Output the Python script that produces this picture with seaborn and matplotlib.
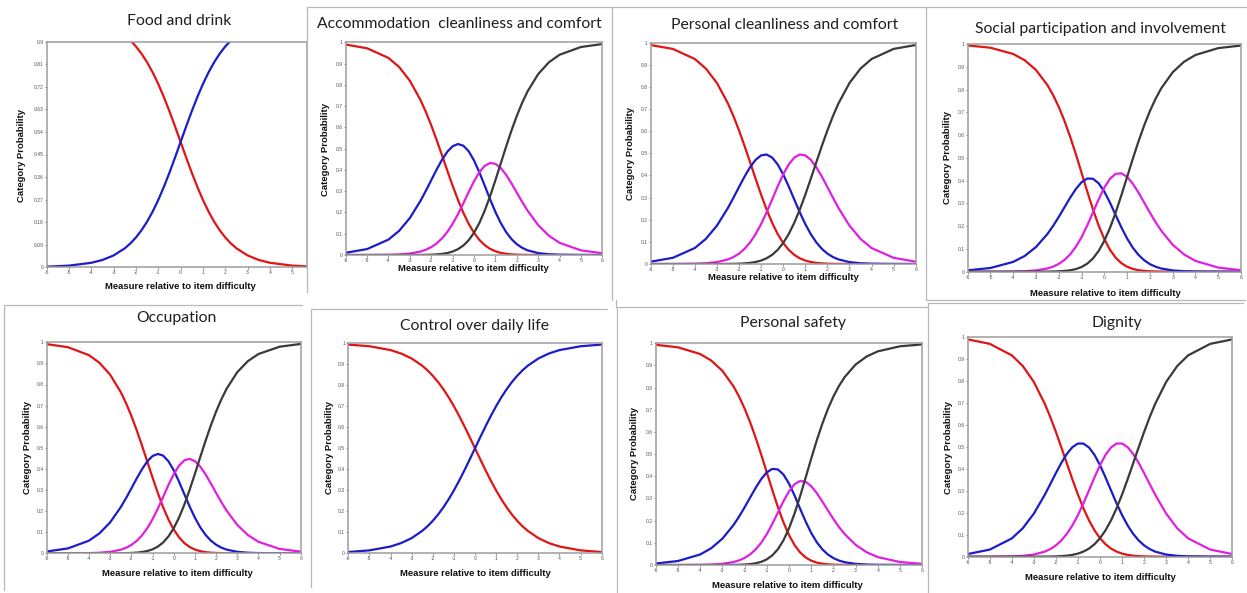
import matplotlib
matplotlib.use("Agg")
import matplotlib.pyplot as plt
import seaborn as sns
from matplotlib.lines import Line2D

sns.set_theme(style="white")
plt.rcParams['font.family'] = ['Liberation Sans', 'DejaVu Sans']

# ---------------- data ----------------
X = [-6, -5, -4, -3.5, -3, -2.5, -2.25, -2, -1.75, -1.5, -1.25, -1, -0.75, -0.5, -0.25, 0,
     0.25, 0.5, 0.75, 1, 1.25, 1.5, 1.75, 2, 2.25, 2.5, 3, 3.5, 4, 5, 6]
X_TICKS = [-6, -5, -4, -3, -2, -1, 0, 1, 2, 3, 4, 5, 6]
X_TICKS_FOOD = [-6, -5, -4, -3, -2, -1, 0, 1, 2, 3, 4, 5]
Y_TICKS = [0, 0.1, 0.2, 0.3, 0.4, 0.5, 0.6, 0.7, 0.8, 0.9, 1]
Y_LABELS = ["0", "0.1", "0.2", "0.3", "0.4", "0.5", "0.6", "0.7", "0.8", "0.9", "1"]
Y_TICKS_FOOD = [0, 0.09, 0.18, 0.27, 0.36, 0.45, 0.54, 0.63, 0.72, 0.81, 0.9]
Y_LABELS_FOOD = ["0", "0.09", "0.18", "0.27", "0.36", "0.45", "0.54", "0.63", "0.72", "0.81", "0.9"]

titles = ["Food and drink", "Accommodation  cleanliness and comfort",
          "Personal cleanliness and comfort", "Social participation and involvement",
          "Occupation", "Control over daily life", "Personal safety", "Dignity"]

food_red = [0.9975, 0.9933, 0.9820, 0.9707, 0.9526, 0.9241, 0.9047, 0.8808, 0.8520, 0.8176, 0.7773,
            0.7311, 0.6792, 0.6225, 0.5622, 0.5, 0.4378, 0.3775, 0.3208, 0.2689, 0.2227, 0.1824,
            0.1480, 0.1192, 0.0953, 0.0759, 0.0474, 0.0293, 0.0180, 0.0067, 0.0025]
food_blue = [0.0025, 0.0067, 0.0180, 0.0293, 0.0474, 0.0759, 0.0953, 0.1192, 0.1480, 0.1824, 0.2227,
             0.2689, 0.3208, 0.3775, 0.4378, 0.5, 0.5622, 0.6225, 0.6792, 0.7311, 0.7773, 0.8176,
             0.8520, 0.8808, 0.9047, 0.9241, 0.9526, 0.9707, 0.9820, 0.9933, 0.9975]

accom_red = [0.9895, 0.9719, 0.9266, 0.8836, 0.8193, 0.7284, 0.6723, 0.6097, 0.5416, 0.4700, 0.3972,
             0.3260, 0.2591, 0.1988, 0.1469, 0.1043, 0.0711, 0.0464, 0.0291, 0.0175, 0.0101, 0.0057,
             0.0031, 0.0016, 0.0008, 0.0004, 0.0001, 0.0, 0.0, 0.0, 0.0]
accom_blue = [0.0105, 0.0279, 0.0724, 0.1137, 0.1739, 0.2549, 0.3021, 0.3517, 0.4012, 0.4471, 0.4852,
              0.5113, 0.5217, 0.5140, 0.4878, 0.4449, 0.3892, 0.3264, 0.2624, 0.2026, 0.1505, 0.1081,
              0.0752, 0.0510, 0.0339, 0.0221, 0.0090, 0.0035, 0.0013, 0.0002, 0.0]
accom_mag = [0.0, 0.0002, 0.0010, 0.0027, 0.0067, 0.0163, 0.0248, 0.0371, 0.0543, 0.0777, 0.1082,
             0.1465, 0.1919, 0.2428, 0.2959, 0.3465, 0.3892, 0.4191, 0.4326, 0.4288, 0.4092, 0.3772,
             0.3372, 0.2937, 0.2502, 0.2094, 0.1406, 0.0908, 0.0572, 0.0219, 0.0082]
accom_black = [0.0, 0.0, 0.0, 0.0, 0.0001, 0.0004, 0.0008, 0.0015, 0.0028, 0.0052, 0.0093,
               0.0162, 0.0273, 0.0444, 0.0694, 0.1043, 0.1505, 0.2081, 0.2759, 0.3511, 0.4302, 0.5091,
               0.5845, 0.6536, 0.7151, 0.7682, 0.8504, 0.9057, 0.9414, 0.9779, 0.9918]

pers_red = [0.9895, 0.9719, 0.9263, 0.8829, 0.8177, 0.7251, 0.6676, 0.6033, 0.5334, 0.4599, 0.3854,
            0.3130, 0.2457, 0.1860, 0.1355, 0.0950, 0.0640, 0.0415, 0.0259, 0.0156, 0.0091, 0.0051,
            0.0028, 0.0015, 0.0008, 0.0004, 0.0001, 0.0, 0.0, 0.0, 0.0]
pers_blue = [0.0105, 0.0279, 0.0723, 0.1136, 0.1735, 0.2537, 0.3000, 0.3481, 0.3951, 0.4374, 0.4707,
             0.4909, 0.4947, 0.4809, 0.4500, 0.4050, 0.3505, 0.2917, 0.2337, 0.1806, 0.1348, 0.0976,
             0.0686, 0.0471, 0.0316, 0.0208, 0.0086, 0.0034, 0.0013, 0.0002, 0.0]
pers_mag = [0.0, 0.0002, 0.0013, 0.0034, 0.0086, 0.0208, 0.0316, 0.0471, 0.0686, 0.0976, 0.1348,
            0.1806, 0.2337, 0.2917, 0.3505, 0.4050, 0.4500, 0.4809, 0.4947, 0.4909, 0.4707, 0.4374,
            0.3951, 0.3481, 0.3000, 0.2537, 0.1735, 0.1136, 0.0723, 0.0279, 0.0105]
pers_black = [0.0, 0.0, 0.0, 0.0, 0.0001, 0.0004, 0.0008, 0.0015, 0.0028, 0.0051, 0.0091,
              0.0156, 0.0259, 0.0415, 0.0640, 0.0950, 0.1355, 0.1860, 0.2457, 0.3130, 0.3854, 0.4599,
              0.5334, 0.6033, 0.6676, 0.7251, 0.8177, 0.8829, 0.9263, 0.9719, 0.9895]

social_red = [0.9939, 0.9836, 0.9561, 0.9288, 0.8857, 0.8198, 0.7758, 0.7233, 0.6620, 0.5924, 0.5157,
              0.4344, 0.3522, 0.2736, 0.2027, 0.1429, 0.0958, 0.0612, 0.0373, 0.0218, 0.0123, 0.0067,
              0.0035, 0.0018, 0.0009, 0.0005, 0.0001, 0.0, 0.0, 0.0, 0.0]
social_blue = [0.0061, 0.0163, 0.0431, 0.0690, 0.1085, 0.1655, 0.2011, 0.2408, 0.2830, 0.3251, 0.3634,
               0.3930, 0.4092, 0.4081, 0.3883, 0.3515, 0.3027, 0.2481, 0.1941, 0.1457, 0.1053, 0.0737,
               0.0502, 0.0334, 0.0218, 0.0140, 0.0056, 0.0022, 0.0008, 0.0001, 0.0]
social_mag = [0.0, 0.0001, 0.0008, 0.0022, 0.0057, 0.0143, 0.0223, 0.0343, 0.0517, 0.0762, 0.1094,
              0.1520, 0.2032, 0.2602, 0.3179, 0.3696, 0.4085, 0.4300, 0.4321, 0.4163, 0.3863, 0.3472,
              0.3036, 0.2595, 0.2176, 0.1798, 0.1185, 0.0757, 0.0474, 0.0180, 0.0067]
social_black = [0.0, 0.0, 0.0, 0.0, 0.0001, 0.0004, 0.0009, 0.0017, 0.0033, 0.0063, 0.0115,
                0.0206, 0.0353, 0.0581, 0.0911, 0.1360, 0.1930, 0.2608, 0.3365, 0.4163, 0.4961, 0.5724,
                0.6427, 0.7053, 0.7596, 0.8057, 0.8758, 0.9221, 0.9518, 0.9819, 0.9933]

occ_red = [0.9914, 0.9769, 0.9389, 0.9022, 0.8459, 0.7637, 0.7112, 0.6511, 0.5840, 0.5113, 0.4353,
           0.3590, 0.2857, 0.2187, 0.1605, 0.1128, 0.0759, 0.0488, 0.0301, 0.0178, 0.0102, 0.0056,
           0.0030, 0.0016, 0.0008, 0.0004, 0.0001, 0.0, 0.0, 0.0, 0.0]
occ_blue = [0.0086, 0.0230, 0.0600, 0.0951, 0.1470, 0.2188, 0.2617, 0.3076, 0.3542, 0.3982, 0.4353,
            0.4609, 0.4710, 0.4629, 0.4364, 0.3939, 0.3400, 0.2808, 0.2223, 0.1690, 0.1239, 0.0879,
            0.0606, 0.0408, 0.0269, 0.0174, 0.0071, 0.0028, 0.0011, 0.0002, 0.0]
occ_mag = [0.0, 0.0002, 0.0010, 0.0027, 0.0070, 0.0171, 0.0262, 0.0396, 0.0586, 0.0845, 0.1186,
           0.1613, 0.2116, 0.2671, 0.3233, 0.3747, 0.4153, 0.4404, 0.4476, 0.4370, 0.4113, 0.3747,
           0.3318, 0.2867, 0.2428, 0.2022, 0.1349, 0.0868, 0.0546, 0.0208, 0.0078]
occ_black = [0.0, 0.0, 0.0, 0.0, 0.0001, 0.0004, 0.0009, 0.0017, 0.0032, 0.0060, 0.0108,
             0.0188, 0.0317, 0.0513, 0.0797, 0.1186, 0.1688, 0.2299, 0.3000, 0.3761, 0.4546, 0.5318,
             0.6046, 0.6709, 0.7295, 0.7800, 0.8580, 0.9104, 0.9443, 0.9790, 0.9922]

ctrl_red = [0.9939, 0.9860, 0.9677, 0.9514, 0.9276, 0.8933, 0.8713, 0.8455, 0.8157, 0.7816, 0.7432,
            0.7006, 0.6542, 0.6047, 0.5529, 0.5, 0.4471, 0.3953, 0.3458, 0.2994, 0.2568, 0.2184,
            0.1843, 0.1545, 0.1287, 0.1067, 0.0724, 0.0486, 0.0323, 0.0140, 0.0061]
ctrl_blue = [0.0061, 0.0140, 0.0323, 0.0486, 0.0724, 0.1067, 0.1287, 0.1545, 0.1843, 0.2184, 0.2568,
             0.2994, 0.3458, 0.3953, 0.4471, 0.5, 0.5529, 0.6047, 0.6542, 0.7006, 0.7432, 0.7816,
             0.8157, 0.8455, 0.8713, 0.8933, 0.9276, 0.9514, 0.9677, 0.9860, 0.9939]

safe_red = [0.9933, 0.9819, 0.9518, 0.9222, 0.8760, 0.8062, 0.7603, 0.7062, 0.6439, 0.5739, 0.4977,
            0.4178, 0.3377, 0.2614, 0.1928, 0.1351, 0.0898, 0.0567, 0.0341, 0.0196, 0.0108, 0.0058,
            0.0030, 0.0015, 0.0008, 0.0004, 0.0001, 0.0, 0.0, 0.0, 0.0]
safe_blue = [0.0067, 0.0180, 0.0474, 0.0757, 0.1186, 0.1799, 0.2178, 0.2598, 0.3042, 0.3481, 0.3876,
             0.4178, 0.4336, 0.4309, 0.4082, 0.3674, 0.3136, 0.2540, 0.1960, 0.1446, 0.1027, 0.0706,
             0.0473, 0.0310, 0.0200, 0.0127, 0.0050, 0.0019, 0.0007, 0.0001, 0.0]
safe_mag = [0.0, 0.0001, 0.0008, 0.0021, 0.0053, 0.0134, 0.0208, 0.0318, 0.0478, 0.0703, 0.1005,
            0.1391, 0.1853, 0.2365, 0.2877, 0.3324, 0.3643, 0.3790, 0.3754, 0.3557, 0.3243, 0.2863,
            0.2462, 0.2072, 0.1715, 0.1400, 0.0907, 0.0572, 0.0355, 0.0134, 0.0050]
safe_black = [0.0, 0.0, 0.0, 0.0, 0.0001, 0.0005, 0.0011, 0.0021, 0.0041, 0.0078, 0.0143,
              0.0254, 0.0435, 0.0712, 0.1112, 0.1651, 0.2323, 0.3103, 0.3946, 0.4801, 0.5621, 0.6373,
              0.7035, 0.7603, 0.8078, 0.8469, 0.9043, 0.9409, 0.9637, 0.9866, 0.9950]

dig_red = [0.9878, 0.9675, 0.9154, 0.8664, 0.7943, 0.6942, 0.6336, 0.5671, 0.4961, 0.4232, 0.3510,
           0.2823, 0.2198, 0.1653, 0.1200, 0.0840, 0.0567, 0.0369, 0.0232, 0.0141, 0.0083, 0.0047,
           0.0026, 0.0014, 0.0007, 0.0004, 0.0001, 0.0, 0.0, 0.0, 0.0]
dig_blue = [0.0121, 0.0323, 0.0830, 0.1296, 0.1959, 0.2823, 0.3308, 0.3801, 0.4270, 0.4677, 0.4981,
            0.5144, 0.5142, 0.4966, 0.4629, 0.4160, 0.3605, 0.3012, 0.2429, 0.1892, 0.1427, 0.1044,
            0.0742, 0.0514, 0.0349, 0.0232, 0.0098, 0.0039, 0.0015, 0.0002, 0.0]
dig_mag = [0.0, 0.0002, 0.0015, 0.0039, 0.0098, 0.0232, 0.0349, 0.0514, 0.0742, 0.1044, 0.1427,
           0.1892, 0.2429, 0.3012, 0.3605, 0.4160, 0.4629, 0.4966, 0.5142, 0.5144, 0.4981, 0.4677,
           0.4270, 0.3801, 0.3308, 0.2823, 0.1959, 0.1296, 0.0830, 0.0323, 0.0121]
dig_black = [0.0, 0.0, 0.0, 0.0, 0.0001, 0.0004, 0.0007, 0.0014, 0.0026, 0.0047, 0.0083,
             0.0141, 0.0232, 0.0369, 0.0567, 0.0840, 0.1200, 0.1653, 0.2198, 0.2823, 0.3510, 0.4232,
             0.4961, 0.5671, 0.6336, 0.6942, 0.7943, 0.8664, 0.9154, 0.9675, 0.9878]

# ---------------- styling / layout ----------------
RED, BLUE, MAG, BLACK = "#e01515", "#1c1cc8", "#e020e0", "#3a3a3a"
W, H = 1247, 593

fig = plt.figure(figsize=(W / 100, H / 100), dpi=100)
fig.patch.set_facecolor("white")


def fx(px):
    return px / W


def fy(py):
    return 1 - py / H


panels = [
    dict(title=titles[0], box=(46.7, 41.7, 306.7, 267.3), curves=[(food_red, RED), (food_blue, BLUE)],
         xlim=(-6, 5.65), xticks=X_TICKS_FOOD, ylim=(0, 0.9), yticks=Y_TICKS_FOOD, ylabels=Y_LABELS_FOOD,
         tpos=(179, 21), xl=(180, 287), yl=(21.7, 155)),
    dict(title=titles[1], box=(345.7, 42.3, 602.3, 255), curves=[(accom_red, RED), (accom_blue, BLUE), (accom_mag, MAG), (accom_black, BLACK)],
         xlim=(-6, 6), xticks=X_TICKS, ylim=(0, 1), yticks=Y_TICKS, ylabels=Y_LABELS,
         tpos=(459, 24), xl=(473, 268.5), yl=(325, 149)),
    dict(title=titles[2], box=(650.7, 42.7, 915.7, 264), curves=[(pers_red, RED), (pers_blue, BLUE), (pers_mag, MAG), (pers_black, BLACK)],
         xlim=(-6, 6), xticks=X_TICKS, ylim=(0, 1), yticks=Y_TICKS, ylabels=Y_LABELS,
         tpos=(785, 25), xl=(783, 278), yl=(630.7, 153)),
    dict(title=titles[3], box=(967.7, 44, 1241, 271.7), curves=[(social_red, RED), (social_blue, BLUE), (social_mag, MAG), (social_black, BLACK)],
         xlim=(-6, 6), xticks=X_TICKS, ylim=(0, 1), yticks=Y_TICKS, ylabels=Y_LABELS,
         tpos=(1100, 29), xl=(1105, 293), yl=(947.7, 158)),
    dict(title=titles[4], box=(46.7, 342.3, 300.7, 553.3), curves=[(occ_red, RED), (occ_blue, BLUE), (occ_mag, MAG), (occ_black, BLACK)],
         xlim=(-6, 6), xticks=X_TICKS, ylim=(0, 1), yticks=Y_TICKS, ylabels=Y_LABELS,
         tpos=(176, 318), xl=(177, 573), yl=(27.3, 447)),
    dict(title=titles[5], box=(348.3, 343.3, 601.7, 553.3), curves=[(ctrl_red, RED), (ctrl_blue, BLUE)],
         xlim=(-6, 6), xticks=X_TICKS, ylim=(0, 1), yticks=Y_TICKS, ylabels=Y_LABELS,
         tpos=(474, 326), xl=(475, 573), yl=(329.3, 448)),
    dict(title=titles[6], box=(655.7, 343.3, 922.3, 565), curves=[(safe_red, RED), (safe_blue, BLUE), (safe_mag, MAG), (safe_black, BLACK)],
         xlim=(-6, 6), xticks=X_TICKS, ylim=(0, 1), yticks=Y_TICKS, ylabels=Y_LABELS,
         tpos=(793, 323), xl=(787, 585), yl=(635, 454)),
    dict(title=titles[7], box=(967.7, 336.7, 1232.3, 556.7), curves=[(dig_red, RED), (dig_blue, BLUE), (dig_mag, MAG), (dig_black, BLACK)],
         xlim=(-6, 6), xticks=X_TICKS, ylim=(0, 1), yticks=Y_TICKS, ylabels=Y_LABELS,
         tpos=(1117, 323), xl=(1100, 577), yl=(948.3, 447)),
]

for p in panels:
    for yvals, _ in p["curves"]:
        assert len(yvals) == len(X), (p["title"], len(yvals))

for p in panels:
    l, t, r, b = p["box"]
    ax = fig.add_axes([fx(l), fy(b), fx(r - l), (b - t) / H])
    ax.set_facecolor("white")
    for yvals, col in p["curves"]:
        sns.lineplot(x=X, y=yvals, ax=ax, color=col, linewidth=1.6, legend=False,
                     solid_joinstyle="round", solid_capstyle="round")
    ax.set_xlim(*p["xlim"])
    ax.set_ylim(*p["ylim"])
    ax.set_xticks(p["xticks"])
    ax.set_xticklabels([str(v) for v in p["xticks"]])
    ax.set_yticks(p["yticks"])
    ax.set_yticklabels(p["ylabels"])
    ax.set_xlabel("")
    ax.set_ylabel("")
    for s in ax.spines.values():
        s.set_color("#9c9c9c")
        s.set_linewidth(1.1)
    ax.tick_params(axis="both", direction="out", length=1.5, width=0.6, color="#777777",
                   labelsize=3.6, labelcolor="#555555", pad=0.8, bottom=True, left=True)
    ax.grid(False)
    fig.text(fx(p["tpos"][0]), fy(p["tpos"][1]), p["title"], ha="center", va="center",
             fontsize=11.3, family=["Lato", "DejaVu Sans"], color="#1e1e1e")
    fig.text(fx(p["xl"][0]), fy(p["xl"][1]), "Measure relative to item difficulty", ha="center",
             va="center", fontsize=6.8, fontweight="bold", color="#111111")
    fig.text(fx(p["yl"][0]), fy(p["yl"][1]), "Category Probability", ha="center", va="center",
             rotation=90, fontsize=6.8, fontweight="bold", color="#111111")

# panel frames (screenshot borders)
frame_segments = [
    ((307, 7), (307, 292)),
    ((307, 7), (1247, 7)),
    ((612, 7), (612, 300)),
    ((926, 7), (926, 300)),
    ((927, 300), (1245, 300)),
    ((4, 305), (302, 305)),
    ((4, 305), (4, 590)),
    ((311, 309), (607, 309)),
    ((311, 309), (311, 587)),
    ((616, 300), (616, 307)),
    ((617, 307), (927, 307)),
    ((617, 307), (617, 593)),
    ((928, 303), (1243, 303)),
    ((928, 303), (928, 593)),
]
for (x1, y1), (x2, y2) in frame_segments:
    fig.add_artist(Line2D([fx(x1), fx(x2)], [fy(y1), fy(y2)], transform=fig.transFigure,
                          color="#b8b8b8", linewidth=0.9))

fig.savefig("out.png", dpi=100, facecolor="white")
